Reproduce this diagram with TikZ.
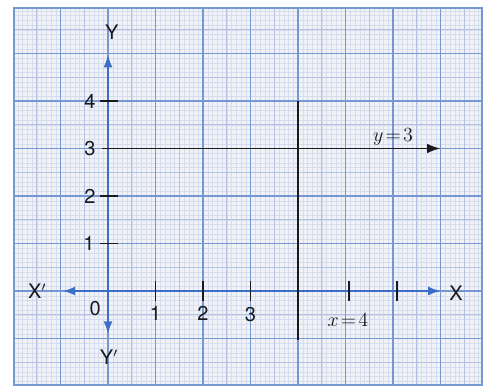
\documentclass[tikz,border=0pt]{standalone}
\usepackage{fontspec}
\setmainfont{TeX Gyre Heros}
\usetikzlibrary{arrows.meta}
\definecolor{paper}{RGB}{240,242,248}
\definecolor{minorc}{RGB}{214,221,237}
\definecolor{midc}{RGB}{178,194,224}
\definecolor{majorc}{RGB}{118,152,210}
\definecolor{axisc}{RGB}{60,110,200}
\definecolor{inkc}{RGB}{25,25,30}
\tikzset{
  minorgrid/.style={draw=minorc, line width=0.25pt},
  midgrid/.style={draw=midc, line width=0.45pt},
  majorgrid/.style={draw=majorc, line width=0.85pt},
  axisline/.style={draw=axisc, line width=1pt, {Latex[length=2.6mm,width=1.9mm]}-{Latex[length=2.6mm,width=1.9mm]}},
  blackline/.style={draw=inkc, line width=1.1pt},
  tickmark/.style={draw=inkc, line width=1.1pt},
  lbl/.style={inner sep=0pt, text=inkc, font=\fontsize{12}{14}\selectfont},
  eqlbl/.style={inner sep=0pt, text=inkc, font=\fontsize{13}{15}\selectfont},
}
\begin{document}
\begin{tikzpicture}
\useasboundingbox[fill=white] (-2.274,-2.021) rectangle (7.958,6.126);
% paper
\fill[paper] (-1.98,-1.98) rectangle (7.87,5.96);
% grid
\begin{scope}
\clip (-1.98,-1.98) rectangle (7.87,5.96);
\draw[minorgrid, step=0.1] (-2,-2) grid (8,6);
\draw[midgrid, step=0.5] (-2,-2) grid (8,6);
\draw[majorgrid, step=1] (-2,-2) grid (8,6);
\end{scope}
\draw[majorgrid] (-1.98,-1.98) rectangle (7.87,5.96);
% axes
\coordinate (xl) at (-0.95,0);
\coordinate (xr) at (7.0,0);
\coordinate (yb) at (0,-0.9);
\coordinate (yt) at (0,4.97);
\draw[axisline] (xl) -- (xr);
\draw[axisline] (yb) -- (yt);
% axis labels
\node[lbl] (X) at (7.33,-0.04) {X};
\node[lbl] (Xp) at (-1.49,0.0) {X$'$};
\node[lbl] (Y) at (0.08,5.45) {Y};
\node[lbl] (Yp) at (0.02,-1.39) {Y$'$};
% x ticks
\foreach \x in {1,2,3,5.07,6.08} \draw[tickmark] (\x,0.21) -- (\x,-0.21);
\node[lbl] (x1) at (1,-0.47) {1};
\node[lbl] (x2) at (2,-0.47) {2};
\node[lbl] (x3) at (3,-0.5) {3};
\node[lbl] (o) at (-0.27,-0.38) {0};
% y ticks
\foreach \y in {1,2,4} \draw[tickmark] (-0.17,\y) -- (0.21,\y);
\node[lbl] (y1) at (-0.4,1.0) {1};
\node[lbl] (y2) at (-0.38,2.0) {2};
\node[lbl] (y3) at (-0.38,3.0) {3};
\node[lbl] (y4) at (-0.38,4.0) {4};
% lines
\coordinate (a) at (-0.13,3);
\coordinate (b) at (7.0,3);
\draw[blackline, -{Latex[length=2.8mm,width=2mm]}] (a) -- (b);
\coordinate (c) at (4,4);
\coordinate (d) at (4,-1.03);
\draw[blackline] (c) -- (d);
\node[eqlbl] (eqy) at (6.0,3.25) {$y\!=\!3$};
\node[eqlbl] (eqx) at (5.05,-0.62) {$x\!=\!4$};
\end{tikzpicture}
\end{document}
